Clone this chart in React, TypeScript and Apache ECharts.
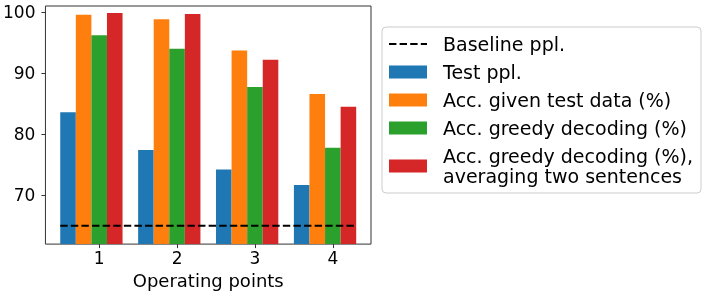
import React, { useEffect, useRef } from "react";
import * as echarts from "echarts";

const categories = [1, 2, 3, 4];
const testPpl = [83.6, 77.4, 74.2, 71.7];
const accGiven = [99.55, 98.85, 93.7, 86.6];
const accGreedy = [96.2, 94.0, 87.75, 77.8];
const accGreedyAvg = [99.85, 99.7, 92.2, 84.5];
const baselinePpl = 65;
const yTicks = [70, 80, 90, 100];

const seriesNames = [
  "Baseline ppl.",
  "Test ppl.",
  "Acc. given test data (%)",
  "Acc. greedy decoding (%)",
  "Acc. greedy decoding (%),\naveraging two sentences",
];
const colors = ["#1f77b4", "#ff7f0e", "#2ca02c", "#d62728"];
const FONT = "DejaVu Sans";
const DASH_ICON =
  "path://M0,0h7.4v2h-7.4zM10.6,0h7.4v2h-7.4zM21.2,0h7.4v2h-7.4zM31.8,0h6.2v2h-6.2z";

export default function App() {
  const ref = useRef<HTMLDivElement>(null);
  useEffect(() => {
    if (!ref.current) return;
    const chart = echarts.init(ref.current, undefined, { renderer: "svg" });
    const barData = [testPpl, accGiven, accGreedy, accGreedyAvg];
    const bars = barData.map((vals, i) => ({
      type: "bar",
      name: seriesNames[i + 1],
      data: categories.map((c, j) => [c - 0.1, vals[j]]),
      barWidth: "20%",
      barGap: "0%",
      itemStyle: { color: colors[i] },
      z: 2,
    }));
    const first = categories[0];
    const last = categories[categories.length - 1];
    chart.setOption({
      animation: false,
      textStyle: { fontFamily: FONT },
      grid: {
        left: 45,
        top: 6,
        right: 335,
        bottom: 49,
        show: true,
        borderColor: "#333",
        borderWidth: 1,
        backgroundColor: "transparent",
      },
      legend: {
        orient: "vertical",
        left: 382,
        top: 27,
        padding: [7, 8, 7, 7],
        itemGap: 8,
        itemWidth: 38,
        itemHeight: 13,
        symbolKeepAspect: true,
        backgroundColor: "#fff",
        borderColor: "#cccccc",
        borderWidth: 1,
        borderRadius: 4,
        data: seriesNames.map((n, i) =>
          i === 0
            ? { name: n, icon: DASH_ICON, itemStyle: { color: "#000" } }
            : { name: n, icon: "rect" }
        ),
        textStyle: {
          fontFamily: FONT,
          fontSize: 19,
          lineHeight: 20,
          color: "#000",
          padding: [0, 0, 0, 11],
        },
      },
      xAxis: {
        type: "value",
        min: 0.31,
        max: 4.49,
        name: "Operating points",
        nameLocation: "middle",
        nameGap: 22,
        nameTextStyle: { fontFamily: FONT, fontSize: 18, color: "#000" },
        axisLine: { show: false },
        splitLine: { show: false },
        axisTick: {
          show: true,
          length: 4,
          customValues: categories,
          lineStyle: { color: "#333" },
        },
        axisLabel: {
          customValues: categories,
          fontFamily: FONT,
          fontSize: 17,
          color: "#000",
          margin: 5,
        },
      },
      yAxis: {
        type: "value",
        min: 62,
        max: 101,
        axisLine: { show: false },
        splitLine: { show: false },
        axisTick: {
          show: true,
          length: 4,
          customValues: yTicks,
          lineStyle: { color: "#333" },
        },
        axisLabel: {
          customValues: yTicks,
          fontFamily: FONT,
          fontSize: 17,
          color: "#000",
          margin: 10,
        },
      },
      series: [
        ...bars,
        {
          type: "line",
          name: seriesNames[0],
          data: [
            [first - 0.5, baselinePpl],
            [last + 0.3, baselinePpl],
          ],
          symbol: "none",
          lineStyle: { color: "#000", width: 2, type: [7.4, 3.2] },
          itemStyle: { color: "#000" },
          z: 5,
        },
      ],
    });
    return () => chart.dispose();
  }, []);
  return (
    <div
      ref={ref}
      style={{ position: "fixed", left: 0, top: 0, width: 706, height: 294 }}
    />
  );
}
